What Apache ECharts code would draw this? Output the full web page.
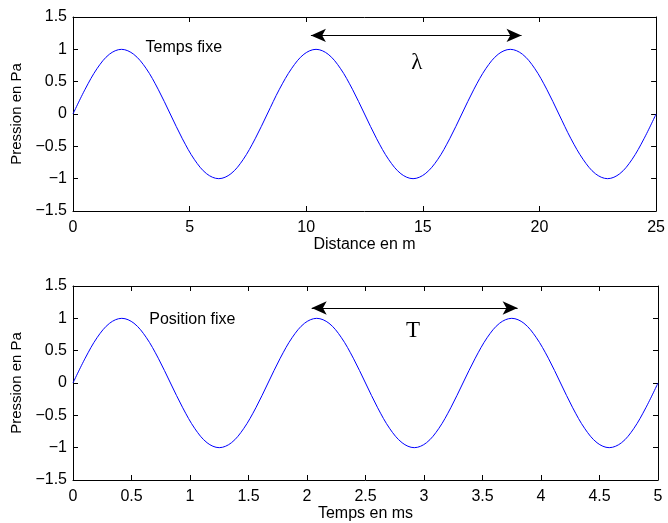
<!DOCTYPE html>
<html><head><meta charset="utf-8">
<script src="https://cdn.jsdelivr.net/npm/echarts@6/dist/echarts.min.js"></script>
<style>html,body{margin:0;padding:0;background:#fff}#c{width:668px;height:523px}</style>
</head><body><div id="c"></div>
<script>
// Top plot: pressure vs distance (m)
const distanceM = [0,0.52,1.04,1.56,2.08,2.60,3.13,3.65,4.17,4.69,5.21,5.73,6.25,6.77,7.29,7.81,
  8.33,8.85,9.38,9.90,10.42,10.94,11.46,11.98,12.50,13.02,13.54,14.06,14.58,15.10,15.63,16.15,
  16.67,17.19,17.71,18.23,18.75,19.27,19.79,20.31,20.83,21.35,21.88,22.40,22.92,23.44,23.96,24.48,25];
const pressureTop = [0,0.383,0.707,0.924,1,0.924,0.707,0.383,0,-0.383,-0.707,-0.924,-1,-0.924,-0.707,-0.383,
  0,0.383,0.707,0.924,1,0.924,0.707,0.383,0,-0.383,-0.707,-0.924,-1,-0.924,-0.707,-0.383,
  0,0.383,0.707,0.924,1,0.924,0.707,0.383,0,-0.383,-0.707,-0.924,-1,-0.924,-0.707,-0.383,0];
// Bottom plot: pressure vs time (ms)
const timeMs = [0,0.104,0.208,0.313,0.417,0.521,0.625,0.729,0.833,0.938,1.042,1.146,1.25,1.354,1.458,1.563,
  1.667,1.771,1.875,1.979,2.083,2.188,2.292,2.396,2.5,2.604,2.708,2.813,2.917,3.021,3.125,3.229,
  3.333,3.438,3.542,3.646,3.75,3.854,3.958,4.063,4.167,4.271,4.375,4.479,4.583,4.688,4.792,4.896,5];
const pressureBottom = [0,0.383,0.707,0.924,1,0.924,0.707,0.383,0,-0.383,-0.707,-0.924,-1,-0.924,-0.707,-0.383,
  0,0.383,0.707,0.924,1,0.924,0.707,0.383,0,-0.383,-0.707,-0.924,-1,-0.924,-0.707,-0.383,
  0,0.383,0.707,0.924,1,0.924,0.707,0.383,0,-0.383,-0.707,-0.924,-1,-0.924,-0.707,-0.383,0];

// Annotations
const lambdaArrow = [[10.2, 1.215], [19.23, 1.215]];
const periodArrow = [[2.04, 1.16], [3.80, 1.16]];
const topNotes = [{text: 'Temps fixe', at: [4.75, 1.02], serif: false}, {text: 'λ', at: [14.74, 0.79], serif: true}];
const bottomNotes = [{text: 'Position fixe', at: [1.02, 0.98], serif: false}, {text: 'T', at: [2.906, 0.81], serif: true}];

const FONT = '"Liberation Sans", Arial, Helvetica, sans-serif';
const FS = 16;
const fmt = v => String(v).replace('-', '\u2212');

function xAx(grid, min, max, interval, name, primary) {
  return {
    type: 'value', gridIndex: grid, min, max, interval,
    position: primary ? 'bottom' : 'top',
    name: primary ? name : '', nameLocation: 'middle', nameGap: 26,
    nameTextStyle: {fontFamily: FONT, fontSize: FS, color: '#000'},
    axisLine: {show: true, onZero: false, lineStyle: {color: '#000', width: 1}},
    axisTick: {show: true, inside: true, length: 5, lineStyle: {color: '#000'}},
    axisLabel: {show: primary, fontFamily: FONT, fontSize: FS, color: '#000', margin: 9, formatter: fmt},
    splitLine: {show: false}
  };
}
function yAx(grid, primary) {
  return {
    type: 'value', gridIndex: grid, min: -1.5, max: 1.5, interval: 0.5,
    position: primary ? 'left' : 'right',
    name: primary ? 'Pression en Pa' : '', nameLocation: 'middle', nameGap: 44,
    nameTextStyle: {fontFamily: FONT, fontSize: 15, color: '#000'},
    axisLine: {show: true, onZero: false, lineStyle: {color: '#000', width: 1}},
    axisTick: {show: true, inside: true, length: 5, lineStyle: {color: '#000'}},
    axisLabel: {show: primary, fontFamily: FONT, fontSize: FS, color: '#000', margin: 6, formatter: fmt},
    splitLine: {show: false}
  };
}
function notes(list) {
  return {
    silent: true, symbol: 'circle', symbolSize: 0,
    data: list.map(n => ({
      coord: n.at,
      label: {show: true, position: 'inside', formatter: n.text, color: '#000',
        fontFamily: n.serif ? '"Liberation Serif", "DejaVu Serif", serif' : FONT,
        fontSize: n.serif ? 23 : FS}
    }))
  };
}
function arrow(a) {
  return {
    silent: true, symbol: ['arrow', 'arrow'], symbolSize: [10, 15],
    lineStyle: {color: '#000', type: 'solid', width: 1},
    itemStyle: {color: '#000'},
    label: {show: false},
    emphasis: {disabled: true},
    data: [[{coord: a[0]}, {coord: a[1]}]]
  };
}
const pairs = (xs, ys) => xs.map((x, i) => [x, ys[i]]);

const chart = echarts.init(document.getElementById('c'), null, {renderer: 'canvas'});
chart.setOption({
  animation: false,
  backgroundColor: '#fff',
  grid: [
    {left: 73, top: 17, width: 585, height: 194},
    {left: 73, top: 286, width: 585, height: 194}
  ],
  xAxis: [
    xAx(0, 0, 25, 5, 'Distance en m', true),
    xAx(1, 0, 5, 0.5, 'Temps en ms', true),
    xAx(0, 0, 25, 5, '', false),
    xAx(1, 0, 5, 0.5, '', false)
  ],
  yAxis: [yAx(0, true), yAx(1, true), yAx(0, false), yAx(1, false)],
  series: [
    {type: 'line', xAxisIndex: 0, yAxisIndex: 0, data: pairs(distanceM, pressureTop), smooth: 0.35,
      showSymbol: false, lineStyle: {color: '#0000ff', width: 1}, itemStyle: {color: '#0000ff'},
      markLine: arrow(lambdaArrow), markPoint: notes(topNotes)},
    {type: 'line', xAxisIndex: 1, yAxisIndex: 1, data: pairs(timeMs, pressureBottom), smooth: 0.35,
      showSymbol: false, lineStyle: {color: '#0000ff', width: 1}, itemStyle: {color: '#0000ff'},
      markLine: arrow(periodArrow), markPoint: notes(bottomNotes)}
  ]
});
</script></body></html>
